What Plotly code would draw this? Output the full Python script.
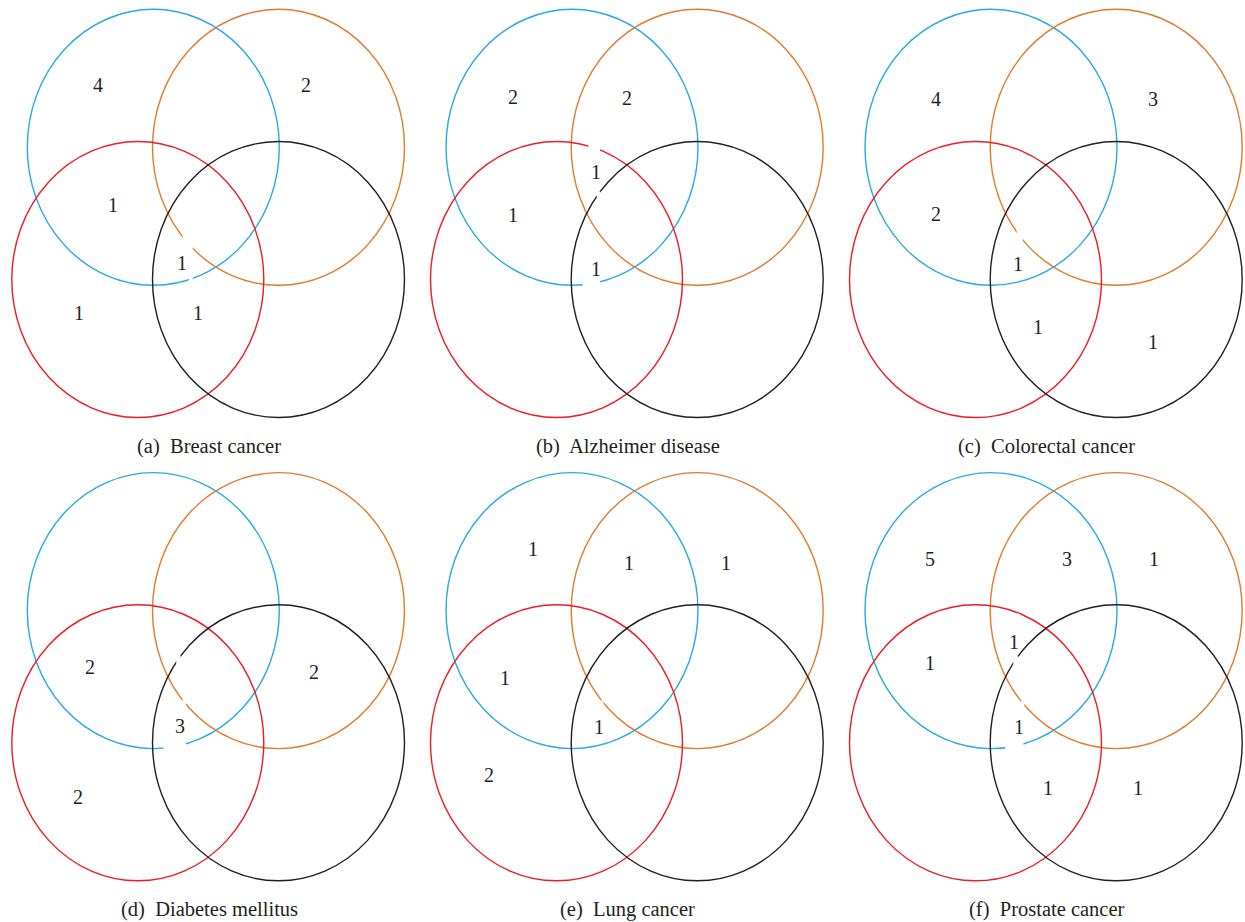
import plotly.graph_objects as go

# ---- data -----------------------------------------------------------------
# Set order: 1 = blue (top-left), 2 = orange (top-right),
#            3 = red (bottom-left), 4 = black (bottom-right).
# Region keys list the sets a region belongs to.
panel_titles = [
    "(a)  Breast cancer",
    "(b)  Alzheimer disease",
    "(c)  Colorectal cancer",
    "(d)  Diabetes mellitus",
    "(e)  Lung cancer",
    "(f)  Prostate cancer",
]

breast_regions = ["1", "2", "13", "134", "3", "34"]
breast_counts = [4, 2, 1, 1, 1, 1]

alzheimer_regions = ["1", "12", "123", "13", "134"]
alzheimer_counts = [2, 2, 1, 1, 1]

colorectal_regions = ["1", "2", "13", "134", "34", "4"]
colorectal_counts = [4, 3, 2, 1, 1, 1]

diabetes_regions = ["13", "24", "134", "3"]
diabetes_counts = [2, 2, 3, 2]

lung_regions = ["1", "12", "2", "13", "134", "3"]
lung_counts = [1, 1, 1, 1, 1, 2]

prostate_regions = ["1", "12", "2", "123", "13", "134", "34", "4"]
prostate_counts = [5, 3, 1, 1, 1, 1, 1, 1]

panel_regions = [breast_regions, alzheimer_regions, colorectal_regions,
                 diabetes_regions, lung_regions, prostate_regions]
panel_counts = [breast_counts, alzheimer_counts, colorectal_counts,
                diabetes_counts, lung_counts, prostate_counts]

# ---- layout / style -------------------------------------------------------
W, H = 1245, 922
COL_X = [0.0, 418.7, 837.7]
ROW_Y = [0.0, 463.3]

# ellipse geometry inside a panel (pixels, y downward)
RX, RY = 126.0, 138.0
ELLIPSES = [
    (153.3, 147.3, "#27aae1"),  # set 1
    (278.5, 147.3, "#e27a2e"),  # set 2
    (137.8, 279.5, "#ed1c24"),  # set 3
    (278.5, 279.5, "#231f20"),  # set 4
]

# where each count is written, per panel (local pixels)
COUNT_POS = [
    {"1": (98, 85), "2": (306, 85), "13": (113, 205), "134": (182, 263),
     "3": (78.5, 313), "34": (197.5, 313)},
    {"1": (94.6, 96.7), "12": (208, 97.7), "123": (177, 172.3),
     "13": (94.6, 215), "134": (177, 269.3)},
    {"1": (98, 99.3), "2": (315.6, 99.3), "13": (98, 214.3),
     "134": (180.6, 264), "34": (200.6, 326.7), "4": (315.6, 342.3)},
    {"13": (90, 203.4), "24": (314.3, 209), "134": (180, 262.4),
     "3": (78.3, 334)},
    {"1": (114.6, 86), "12": (210.6, 100), "2": (307, 99.4),
     "13": (86.3, 215), "134": (180.3, 264), "3": (70.3, 311.7)},
    {"1": (92.3, 96), "12": (229, 96), "2": (316.6, 96), "123": (176.6, 178.4),
     "13": (92.3, 199.4), "134": (181.6, 264), "34": (210, 325),
     "4": (300.6, 325)},
]

# white knock-outs behind the numbers (local x0, y0, x1, y1)
KNOCKOUTS = [
    [(182.7, 230, 192.7, 255), (188.8, 272, 192.7, 288)],
    [(169.6, 138, 181.3, 157), (177.8, 191.5, 181.6, 197.2),
     (164.0, 276, 181.3, 291)],
    [(179.0, 226, 185.0, 246)],
    [(176.2, 192, 180.6, 200.5), (182.7, 230, 186.0, 248),
     (163.5, 275, 186.0, 292)],
    [(183.0, 230, 184.8, 248)],
    [(175.6, 193, 180.6, 201.5), (183.3, 230, 186.6, 248),
     (167.5, 275, 185.6, 292)],
]

TITLE_POS = (209.0, 446.0)
FONT = "Liberation Serif"
TEXT_COLOR = "#231f20"

fig = go.Figure()
shapes, annotations = [], []

for p in range(6):
    ox = COL_X[p % 3]
    oy = ROW_Y[p // 3]

    for cx, cy, color in ELLIPSES:
        shapes.append(dict(
            type="circle", xref="x", yref="y",
            x0=ox + cx - RX, x1=ox + cx + RX,
            y0=oy + cy - RY, y1=oy + cy + RY,
            line=dict(color=color, width=1.4),
            fillcolor="rgba(0,0,0,0)",
        ))

    for x0, y0, x1, y1 in KNOCKOUTS[p]:
        shapes.append(dict(
            type="rect", xref="x", yref="y",
            x0=ox + x0, x1=ox + x1, y0=oy + y0, y1=oy + y1,
            line=dict(width=0), fillcolor="white",
        ))

    for key, val in zip(panel_regions[p], panel_counts[p]):
        x, y = COUNT_POS[p][key]
        annotations.append(dict(
            x=ox + x, y=oy + y, xref="x", yref="y",
            text=str(val), showarrow=False,
            xanchor="center", yanchor="middle",
            font=dict(family=FONT, size=20, color=TEXT_COLOR),
        ))

    tx, ty = TITLE_POS
    annotations.append(dict(
        x=ox + tx, y=oy + ty, xref="x", yref="y",
        text=panel_titles[p], showarrow=False,
        xanchor="center", yanchor="middle",
        font=dict(family=FONT, size=20.5, color=TEXT_COLOR),
    ))

fig.update_layout(
    width=W, height=H,
    margin=dict(l=0, r=0, t=0, b=0),
    paper_bgcolor="white", plot_bgcolor="white",
    showlegend=False,
    xaxis=dict(range=[0, W], visible=False, fixedrange=True),
    yaxis=dict(range=[H, 0], visible=False, fixedrange=True),
    shapes=shapes,
    annotations=annotations,
)

fig.write_html("out.html", config={"displayModeBar": False})
